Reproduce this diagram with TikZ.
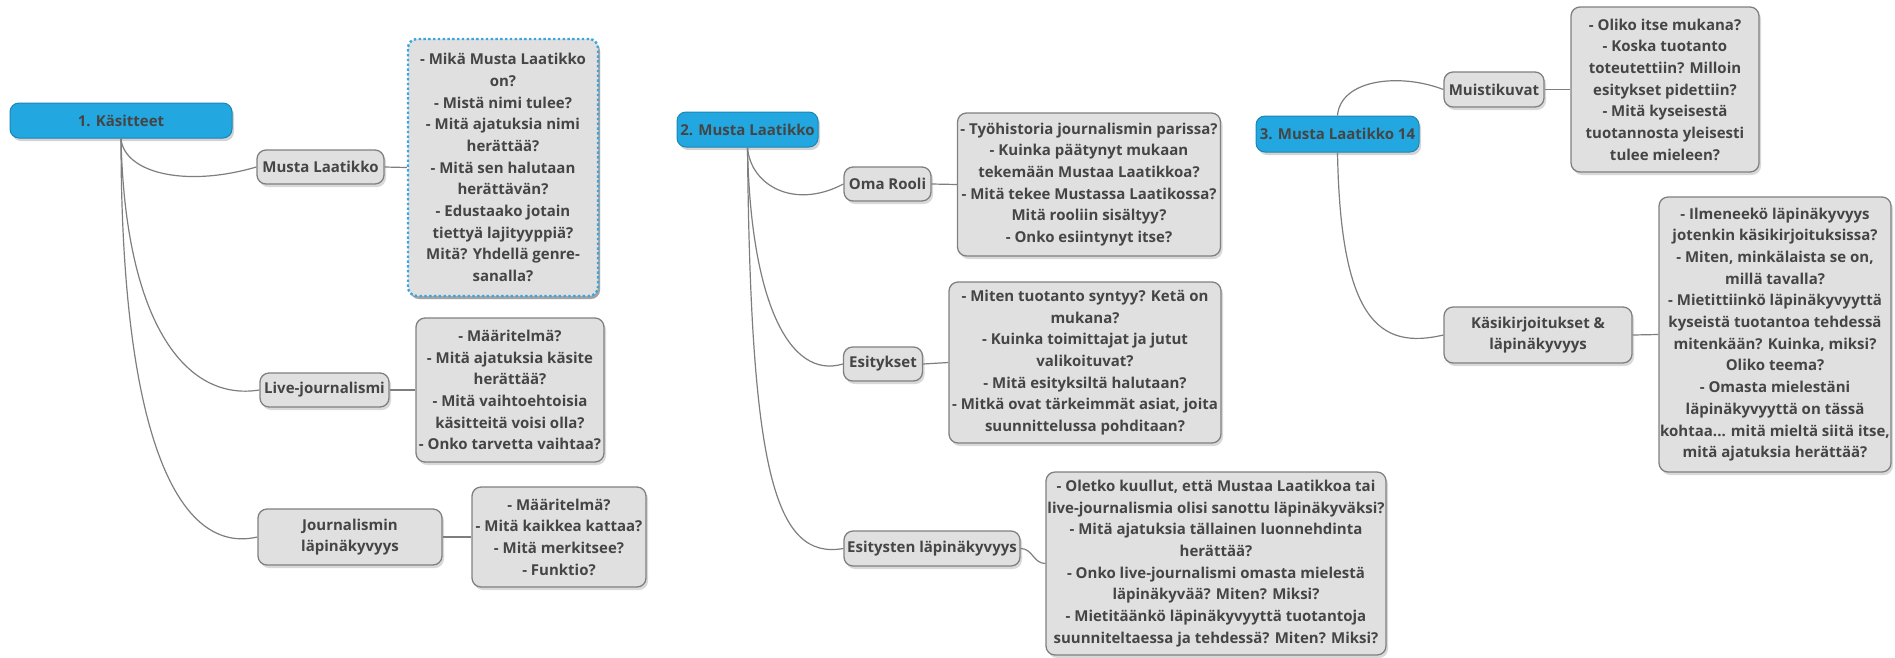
\documentclass[tikz,border=0pt]{standalone}
\usepackage{fontspec}
\setmainfont{Open Sans}
\usetikzlibrary{shadows}

\definecolor{rootblue}{HTML}{22A7E0}
\definecolor{rootedge}{HTML}{1B86B5}
\definecolor{boxgray}{HTML}{E0E0E0}
\definecolor{boxedge}{HTML}{808080}
\definecolor{inkgray}{HTML}{454545}
\definecolor{linkgray}{HTML}{7E7E7E}
\definecolor{dotblue}{HTML}{3AA5DE}

\begin{document}
\begin{tikzpicture}[x=1pt,y=-1pt,
        every node/.style={font=\bfseries\fontsize{15}{21.7}\selectfont,text=inkgray,align=center,inner sep=0pt},
        rootbox/.style={fill=rootblue,draw=rootedge,line width=1pt,rounded corners=9pt,
            drop shadow={shadow xshift=2pt,shadow yshift=-3pt,opacity=0.35}},
        topicbox/.style={fill=boxgray,draw=boxedge,line width=1.3pt,rounded corners=9pt,
            drop shadow={shadow xshift=2pt,shadow yshift=-3pt,opacity=0.3}},
        notebox/.style={topicbox},
        link/.style={draw=linkgray,line width=1.2pt}]
    \useasboundingbox (0,0) rectangle (1895,657);

    % 1. Käsitteet
    \node[rootbox,minimum width=222,minimum height=35] (kas) at (121,120.5) {1. Käsitteet};
    \node[topicbox,minimum width=127,minimum height=34] (ml) at (320.5,167) {Musta Laatikko};
    \node[notebox,draw=dotblue,line width=2.4pt,dash pattern=on 2.4pt off 2.4pt,
        drop shadow={shadow xshift=2pt,shadow yshift=-3pt,opacity=0.6},
        minimum width=190,minimum height=257] (mlq) at (503,167.5)
        {- Mikä Musta Laatikko\\on?\\- Mistä nimi tulee?\\- Mitä ajatuksia nimi\\herättää?\\- Mitä sen halutaan\\herättävän?\\- Edustaako jotain\\tiettyä lajityyppiä?\\Mitä? Yhdellä genre-\\sanalla?};
    \node[topicbox,minimum width=129,minimum height=34] (live) at (324.5,390) {Live-journalismi};
    \node[notebox,minimum width=188,minimum height=144] (liveq) at (510,390)
        {- Määritelmä?\\- Mitä ajatuksia käsite\\herättää?\\- Mitä vaihtoehtoisia\\käsitteitä voisi olla?\\- Onko tarvetta vaihtaa?};
    \node[topicbox,minimum width=184,minimum height=56] (jl) at (350,537) {Journalismin\\läpinäkyvyys};
    \node[notebox,minimum width=174,minimum height=100] (jlq) at (559,537)
        {- Määritelmä?\\- Mitä kaikkea kattaa?\\- Mitä merkitsee?\\- Funktio?};

    % 2. Musta Laatikko
    \node[rootbox,minimum width=141,minimum height=35] (mus) at (747.5,129.5) {2. Musta Laatikko};
    \node[topicbox,minimum width=87,minimum height=34] (oma) at (887.5,184) {Oma Rooli};
    \node[notebox,minimum width=263,minimum height=143] (omaq) at (1089,184.5)
        {- Työhistoria journalismin parissa?\\- Kuinka päätynyt mukaan\\tekemään Mustaa Laatikkoa?\\- Mitä tekee Mustassa Laatikossa?\\Mitä rooliin sisältyy?\\- Onko esiintynyt itse?};
    \node[topicbox,minimum width=79,minimum height=34] (esi) at (883,364) {Esitykset};
    \node[notebox,minimum width=272,minimum height=161] (esiq) at (1085,362.5)
        {- Miten tuotanto syntyy? Ketä on\\mukana?\\- Kuinka toimittajat ja jutut\\valikoituvat?\\- Mitä esityksiltä halutaan?\\- Mitkä ovat tärkeimmät asiat, joita\\suunnittelussa pohditaan?};
    \node[topicbox,minimum width=176,minimum height=35] (esl) at (932,548.5) {Esitysten läpinäkyvyys};
    \node[notebox,minimum width=340,minimum height=183] (eslq) at (1216,563.5)
        {- Oletko kuullut, että Mustaa Laatikkoa tai\\live-journalismia olisi sanottu läpinäkyväksi?\\- Mitä ajatuksia tällainen luonnehdinta\\herättää?\\- Onko live-journalismi omasta mielestä\\läpinäkyvää? Miten? Miksi?\\- Mietitäänkö läpinäkyvyyttä tuotantoja\\suunniteltaessa ja tehdessä? Miten? Miksi?};

    % 3. Musta Laatikko 14
    \node[rootbox,minimum width=163,minimum height=36] (ml14) at (1337.5,134) {3. Musta Laatikko 14};
    \node[topicbox,minimum width=100,minimum height=35] (mui) at (1494,89.5) {Muistikuvat};
    \node[notebox,minimum width=188,minimum height=165] (muiq) at (1665,89.5)
        {- Oliko itse mukana?\\- Koska tuotanto\\toteutettiin? Milloin\\esitykset pidettiin?\\- Mitä kyseisestä\\tuotannosta yleisesti\\tulee mieleen?};
    \node[topicbox,minimum width=188,minimum height=56] (kasi) at (1538,335) {Käsikirjoitukset \&\\läpinäkyvyys};
    \node[notebox,minimum width=232,minimum height=275] (kasiq) at (1775,334.5)
        {- Ilmeneekö läpinäkyvyys\\jotenkin käsikirjoituksissa?\\- Miten, minkälaista se on,\\millä tavalla?\\- Mietittiinkö läpinäkyvyyttä\\kyseistä tuotantoa tehdessä\\mitenkään? Kuinka, miksi?\\Oliko teema?\\- Omasta mielestäni\\läpinäkyvyyttä on tässä\\kohtaa... mitä mieltä siitä itse,\\mitä ajatuksia herättää?};

    % branches
    \draw[link] (kas.south) .. controls +(3,34) and +(-72,21) .. (ml.west);
    \draw[link] (kas.south) .. controls +(4,182) and +(-75,12) .. (live.west);
    \draw[link] (kas.south) .. controls +(0,302) and +(-78,18) .. (jl.west);
    \draw[link] (mus.south) .. controls +(3,38) and +(-49,26) .. (oma.west);
    \draw[link] (mus.south) .. controls +(3,153) and +(-54,16) .. (esi.west);
    \draw[link] (mus.south) .. controls +(3,323) and +(-69,12) .. (esl.west);
    \draw[link] (ml14.north) .. controls +(3,-36) and +(-44,-17) .. (mui.west);
    \draw[link] (ml14.south) .. controls +(3,168) and +(-64,15) .. (kasi.west);
    \foreach \a/\b in {ml/mlq, live/liveq, jl/jlq, oma/omaq, esi/esiq, mui/muiq, kasi/kasiq}
        \draw[link] (\a.east) -- (\b.west);
    \draw[link] (esl.east) .. controls +(12,0) and +(-12,0) .. (eslq.west);
\end{tikzpicture}
\end{document}
